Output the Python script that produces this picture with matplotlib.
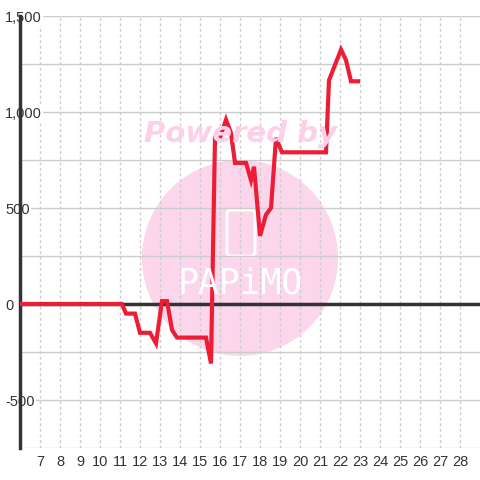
import matplotlib
matplotlib.use("Agg")
import matplotlib.pyplot as plt
from matplotlib.patches import Circle, FancyBboxPatch
from matplotlib.ticker import FuncFormatter

plt.rcParams['font.family'] = ['Liberation Sans', 'DejaVu Sans']
plt.rcParams['axes.unicode_minus'] = False

# data
x_vals = [6.0, 11.1, 11.3, 11.75, 12.0, 12.5, 12.8, 13.1, 13.35, 13.6, 13.85,
          15.3, 15.55, 15.75, 16.0, 16.3, 16.55, 16.75, 17.3, 17.55, 17.7,
          18.0, 18.3, 18.55, 18.8, 19.1, 21.3, 21.45, 22.05, 22.3, 22.55, 22.9]
y_vals = [0, 0, -50, -50, -150, -150, -205, 15, 15, -135, -175,
          -175, -310, 865, 865, 960, 890, 735, 735, 645, 715,
          355, 465, 500, 865, 790, 790, 1165, 1325, 1270, 1160, 1160]
x_ticks = list(range(7, 29))
y_ticks = [-500, 0, 500, 1000, 1500]
y_grid = [-750, -500, -250, 250, 500, 750, 1000, 1250, 1500]

fig = plt.figure(figsize=(4.8, 4.8), dpi=100)
ax = fig.add_axes([20/480, 32/480, 460/480, 432/480])
ax.set_xlim(6, 29)
ax.set_ylim(-750, 1500)

# watermark
ax.add_patch(Circle((0.5, 1 - 258/480), 98/480, transform=fig.transFigure,
                    facecolor='#fcd6eb', edgecolor='none', zorder=0.1))
ax.add_patch(FancyBboxPatch((227/480, 1 - 256/480), 28/480, 46/480,
                            boxstyle='round,pad=0,rounding_size=0.008',
                            transform=fig.transFigure, facecolor='none',
                            edgecolor='white', lw=2, zorder=0.2))
fig.text(0.5, 1 - 284/480, "PAPiMO", color='white', fontsize=25,
         family='DejaVu Sans Mono', ha='center', va='center', zorder=0.2)
fig.text(241/480, 1 - 134/480, "Powered by", color='#fbd0e8', fontsize=21,
         fontweight='bold', fontstyle='italic', family='DejaVu Sans',
         ha='center', va='center')

# grid
for v in y_grid:
    ax.axhline(v, color='#cccccc', lw=1, zorder=0.5)
for v in x_ticks:
    ax.axvline(v, color='#cccccc', lw=1, ls=(0, (2, 2)), zorder=0.5)
ax.axhline(0, color='#333333', lw=2.5, zorder=1)

ax.plot(x_vals, y_vals, color='#ee1d36', lw=3, solid_joinstyle='miter', zorder=3)

for s in ['top', 'right', 'bottom']:
    ax.spines[s].set_visible(False)
ax.spines['left'].set_color('#333333')
ax.spines['left'].set_linewidth(2.5)

ax.set_xticks(x_ticks)
ax.set_yticks(y_ticks)
ax.yaxis.set_major_formatter(FuncFormatter(lambda v, p: f"{int(v):,}"))
ax.tick_params(axis='both', length=0, labelsize=10.5, labelcolor='#333333')
ax.tick_params(axis='x', pad=5)
ax.tick_params(axis='y', pad=10.8)
for lbl in ax.get_yticklabels():
    lbl.set_horizontalalignment('left')
    lbl.set_bbox(dict(facecolor='white', edgecolor='none', pad=1))

fig.savefig("out.png", dpi=100)
